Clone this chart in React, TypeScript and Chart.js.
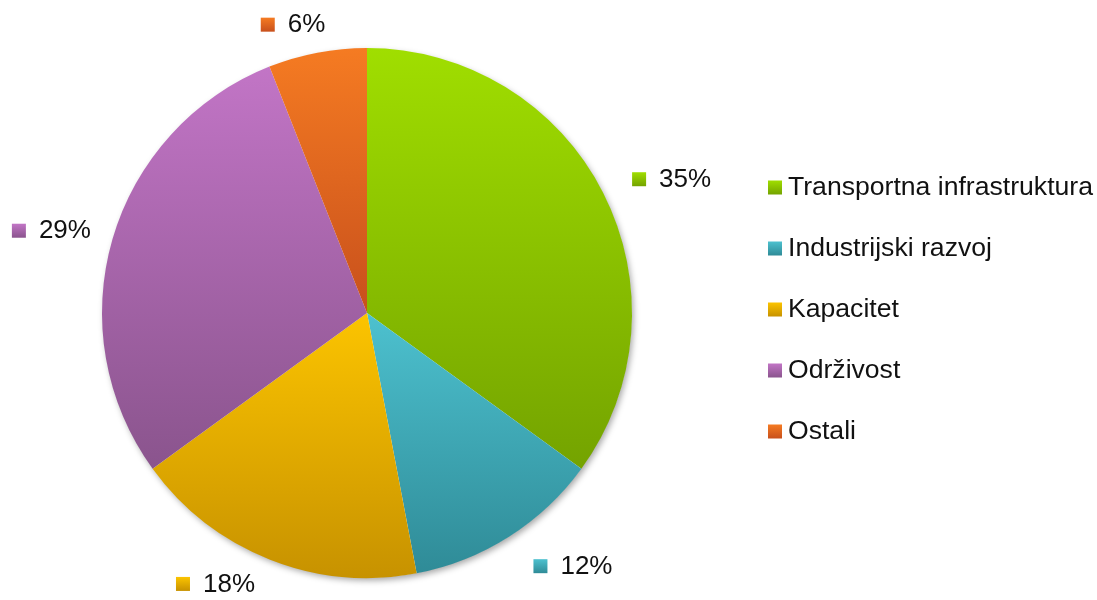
import React, { useEffect, useRef } from "react";
import { Chart, registerables } from "chart.js";

Chart.register(...registerables);

const categories = [
  "Transportna infrastruktura",
  "Industrijski razvoj",
  "Kapacitet",
  "Održivost",
  "Ostali",
];
const shares = [35, 12, 18, 29, 6];
const topColors = ["#a0de00", "#4dc1cf", "#fcc400", "#c275c6", "#f57b22"];
const bottomColors = ["#74a300", "#2f8b97", "#c79200", "#8a548d", "#c8501c"];

const FONT = '"Liberation Sans", Arial, sans-serif';
const LABEL_FONT_SIZE = 26;
const LEGEND_FONT_SIZE = 26.6;

function sliceGradient(chart: any, index: number) {
  const area = chart.chartArea;
  if (!area) return topColors[index];
  const cx = (area.left + area.right) / 2;
  const cy = (area.top + area.bottom) / 2;
  const r = Math.min(area.right - area.left, area.bottom - area.top) / 2;
  const data = chart.data.datasets[0].data as number[];
  const total = data.reduce((a, b) => a + b, 0);
  let cum = 0;
  for (let i = 0; i < index; i++) cum += data[i];
  const a0 = -Math.PI / 2 + (2 * Math.PI * cum) / total;
  const a1 = a0 + (2 * Math.PI * data[index]) / total;
  const ys = [cy, cy + r * Math.sin(a0), cy + r * Math.sin(a1)];
  for (const k of [-Math.PI / 2, Math.PI / 2, (3 * Math.PI) / 2]) {
    if (k >= a0 && k <= a1) ys.push(cy + r * Math.sin(k));
  }
  const minY = Math.min(...ys);
  const maxY = Math.max(...ys);
  const g = chart.ctx.createLinearGradient(0, minY, 0, maxY + 0.01);
  g.addColorStop(0, topColors[index]);
  g.addColorStop(1, bottomColors[index]);
  return g;
}

function squareGradient(ctx: CanvasRenderingContext2D, i: number, y0: number, size: number) {
  const g = ctx.createLinearGradient(0, y0, 0, y0 + size);
  g.addColorStop(0, topColors[i]);
  g.addColorStop(1, bottomColors[i]);
  return g;
}

const shadowPlugin = {
  id: "pieShadow",
  beforeDatasetsDraw(chart: any) {
    const meta = chart.getDatasetMeta(0);
    const el = meta.data[0];
    if (!el) return;
    const { x, y, outerRadius } = el.getProps(["x", "y", "outerRadius"], true);
    const ctx = chart.ctx;
    ctx.save();
    ctx.shadowColor = "rgba(0,0,0,0.35)";
    ctx.shadowBlur = 6;
    ctx.shadowOffsetX = 2;
    ctx.shadowOffsetY = 3;
    ctx.fillStyle = "#ffffff";
    ctx.beginPath();
    ctx.arc(x, y, outerRadius - 0.5, 0, Math.PI * 2);
    ctx.fill();
    ctx.restore();
  },
};

const labelPlugin = {
  id: "outsideLabels",
  afterDatasetsDraw(chart: any, _args: any, opts: any) {
    const ctx = chart.ctx;
    const meta = chart.getDatasetMeta(0);
    const data = chart.data.datasets[0].data as number[];
    const nudges = opts.nudges || [];
    const sq = 14;
    const gap = 13;
    ctx.save();
    ctx.font = `${LABEL_FONT_SIZE}px ${FONT}`;
    ctx.textBaseline = "middle";
    ctx.textAlign = "left";
    meta.data.forEach((el: any, i: number) => {
      const p = el.getProps(["x", "y", "startAngle", "endAngle", "outerRadius"], true);
      const mid = (p.startAngle + p.endAngle) / 2;
      const dist = p.outerRadius + opts.distance;
      const n = nudges[i] || [0, 0];
      const cx = p.x + dist * Math.cos(mid) + n[0];
      const cy = p.y + dist * Math.sin(mid) + n[1];
      const text = `${data[i]}%`;
      const tw = ctx.measureText(text).width;
      const w = sq + gap + tw;
      const left = cx - w / 2;
      ctx.fillStyle = squareGradient(ctx, i, cy - sq / 2, sq);
      ctx.fillRect(left, cy - sq / 2, sq, sq);
      ctx.fillStyle = "#111111";
      ctx.fillText(text, left + sq + gap, cy + 0.5);
    });
    ctx.restore();
  },
};

const legendPlugin = {
  id: "sideLegend",
  afterDraw(chart: any, _args: any, opts: any) {
    const ctx = chart.ctx;
    const area = chart.chartArea;
    const labels = chart.data.labels as string[];
    const cyMid = (area.top + area.bottom) / 2;
    const n = labels.length;
    const x0 = area.right + opts.offsetX;
    const startY = cyMid - ((n - 1) * opts.rowGap) / 2 - 3.5;
    const sq = 14;
    ctx.save();
    ctx.font = `${LEGEND_FONT_SIZE}px ${FONT}`;
    ctx.textBaseline = "middle";
    ctx.textAlign = "left";
    labels.forEach((lab, i) => {
      const y = startY + i * opts.rowGap;
      ctx.fillStyle = squareGradient(ctx, i, y - sq / 2, sq);
      ctx.fillRect(x0, y - sq / 2, sq, sq);
      ctx.fillStyle = "#111111";
      ctx.fillText(lab, x0 + 20, y + 0.5);
    });
    ctx.restore();
  },
};

export default function App() {
  const canvasRef = useRef<HTMLCanvasElement | null>(null);

  useEffect(() => {
    document.body.style.margin = "0";
    const canvas = canvasRef.current;
    if (!canvas) return;
    const chart = new Chart(canvas, {
      type: "pie",
      data: {
        labels: categories,
        datasets: [
          {
            data: shares,
            backgroundColor: (c: any) => sliceGradient(c.chart, c.dataIndex),
            borderWidth: 0,
          },
        ],
      },
      options: {
        animation: false,
        responsive: true,
        maintainAspectRatio: false,
        rotation: 0,
        layout: { padding: { left: 102, right: 465, top: 48, bottom: 22 } },
        plugins: {
          legend: { display: false },
          tooltip: { enabled: false },
          outsideLabels: {
            distance: 55,
            nudges: [
              [19.5, 11.5],
              [34.5, -17],
              [-33.7, -26.6],
              [-8.3, 7],
              [-14, 26],
            ],
          },
          sideLegend: { offsetX: 136, rowGap: 61 },
        } as any,
      },
      plugins: [shadowPlugin, labelPlugin, legendPlugin],
    });
    return () => chart.destroy();
  }, []);

  return (
    <div style={{ position: "fixed", left: 0, top: 0, width: 1097, height: 600, background: "#ffffff" }}>
      <canvas ref={canvasRef} />
    </div>
  );
}
